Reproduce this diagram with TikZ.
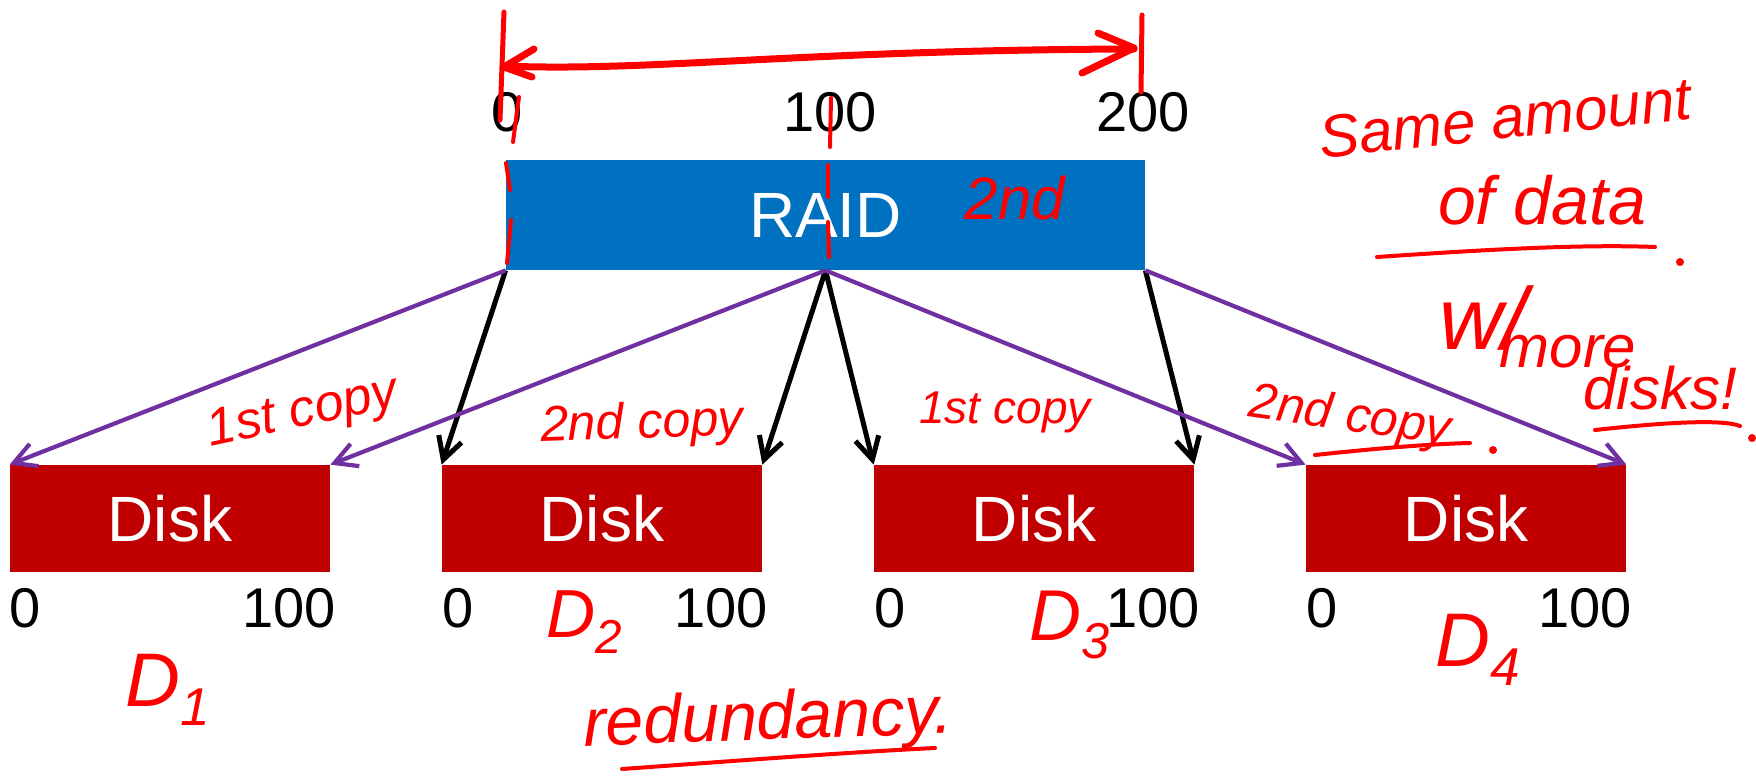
\documentclass[tikz,border=0pt]{standalone}
\usepackage{fontspec}
\setmainfont{Liberation Sans}
\usetikzlibrary{arrows.meta}

\definecolor{raidblue}{HTML}{0070C0}
\definecolor{diskred}{HTML}{C00000}
\definecolor{mirrorviolet}{HTML}{7030A0}
\definecolor{penred}{HTML}{FF0000}

\begin{document}
\begin{tikzpicture}[x=0.5pt,y=-0.5pt,
  block/.style={minimum width=160pt, minimum height=53.5pt, inner sep=0pt,
    text=white, font=\fontsize{32}{36}\selectfont},
  raidbox/.style={block, fill=raidblue, minimum width=319.5pt, minimum height=55pt},
  diskbox/.style={block, fill=diskred},
  num/.style={inner sep=0pt, font=\fontsize{28}{32}\selectfont},
  stripe/.style={line width=2.5pt, -{Straight Barb[length=11pt,width=12pt]}},
  mirrorline/.style={stripe, line width=2.1pt, draw=mirrorviolet},
  pen/.style={draw=penred, line width=2pt, line cap=round, line join=round},
  note/.style={text=penred, inner sep=0pt, font=\itshape\fontsize{#1}{#1}\selectfont},
]
\useasboundingbox (0,0) rectangle (1756,778);

% RAID volume and the four disks
\node[raidbox] (raid) at (825.5,215) {RAID};
\node[diskbox] (d1) at (170,518.5) {Disk};
\node[diskbox] (d2) at (602,518.5) {Disk};
\node[diskbox] (d3) at (1034,518.5) {Disk};
\node[diskbox] (d4) at (1466,518.5) {Disk};

% address labels
\node[num] (r0) at (507,112) {0};
\node[num] (r100) at (830,112) {100};
\node[num] (r200) at (1143,112) {200};
\foreach \d in {d1,d2,d3,d4}{
  \node[num, anchor=west] (\d lo) at ([yshift=-18pt]\d.south west) {0};
  \node[num, anchor=east] (\d hi) at ([xshift=3pt,yshift=-18pt]\d.south east) {100};
}

% striping (black) and mirroring (violet)
\draw[stripe] (raid.south west) -- (d2.north west);
\draw[stripe] (raid.south) -- (d2.north east);
\draw[stripe] (raid.south) -- (d3.north west);
\draw[stripe] (raid.south east) -- (d3.north east);
\draw[mirrorline] (raid.south west) -- (d1.north west);
\draw[mirrorline] (raid.south) -- (d1.north east);
\draw[mirrorline] (raid.south) -- (d4.north west);
\draw[mirrorline] (raid.south east) -- (d4.north east);

% pen annotations: range of the RAID address space
\draw[pen, line width=3.5pt] (504,66) .. controls (650,72) and (800,50) .. (1134,49);
\draw[pen, line width=3.5pt] (534,49) -- (504,67) -- (532,77);
\draw[pen, line width=3.5pt] (1098,33) -- (1134,48) -- (1082,73);
\draw[pen, line width=2.5pt] (504,12) -- (500,120);
\draw[pen, line width=2.5pt] (1142,15) -- (1141,92);
\draw[pen] (519,97) -- (513,142);
\draw[pen] (831,98) -- (830,147);
\draw[pen] (506,163) -- (510,190);
\draw[pen] (511,220) -- (507,263);
\draw[pen] (828,165) -- (828,197);
\draw[pen] (828,222) -- (829,257);
\node[note=30] (second) at (1015,198) {2nd};

% pen annotations: side note
\node[note=30, rotate=6] (same) at (1505,118) {Same amount};
\node[note=34] (data) at (1542,200) {of data};
\draw[pen] (1377,257) .. controls (1480,250) and (1580,244) .. (1655,247);
\fill[penred] (1680,262) circle (2pt);
\node[note=44] (with) at (1483,318) {w/};
\node[note=30] (more) at (1568,352) {more};
\node[note=30] (disks) at (1660,388) {disks!};
\draw[pen] (1595,430) .. controls (1650,424) and (1720,418) .. (1740,426);
\fill[penred] (1752,438) circle (2pt);

% pen annotations: copies and disk names
\node[note=26, rotate=12] (c1) at (303,414) {1st copy};
\node[note=25, rotate=2] (c2) at (642,425) {2nd copy};
\node[note=23] (c3) at (1005,412) {1st copy};
\node[note=25, rotate=-8] (c4) at (1350,418) {2nd copy};
\draw[pen] (1315,455) .. controls (1380,448) and (1430,444) .. (1470,443);
\fill[penred] (1493,450) circle (2pt);

\node[note=38] (n1) at (168,690) {D\textsubscript{1}};
\node[note=34] (n2) at (585,622) {D\textsubscript{2}};
\node[note=36] (n3) at (1070,625) {D\textsubscript{3}};
\node[note=38] (n4) at (1478,650) {D\textsubscript{4}};

\node[note=34, rotate=2] (redund) at (768,722) {redundancy.};
\draw[pen] (622,769) .. controls (720,762) and (850,752) .. (935,748);
\end{tikzpicture}
\end{document}
